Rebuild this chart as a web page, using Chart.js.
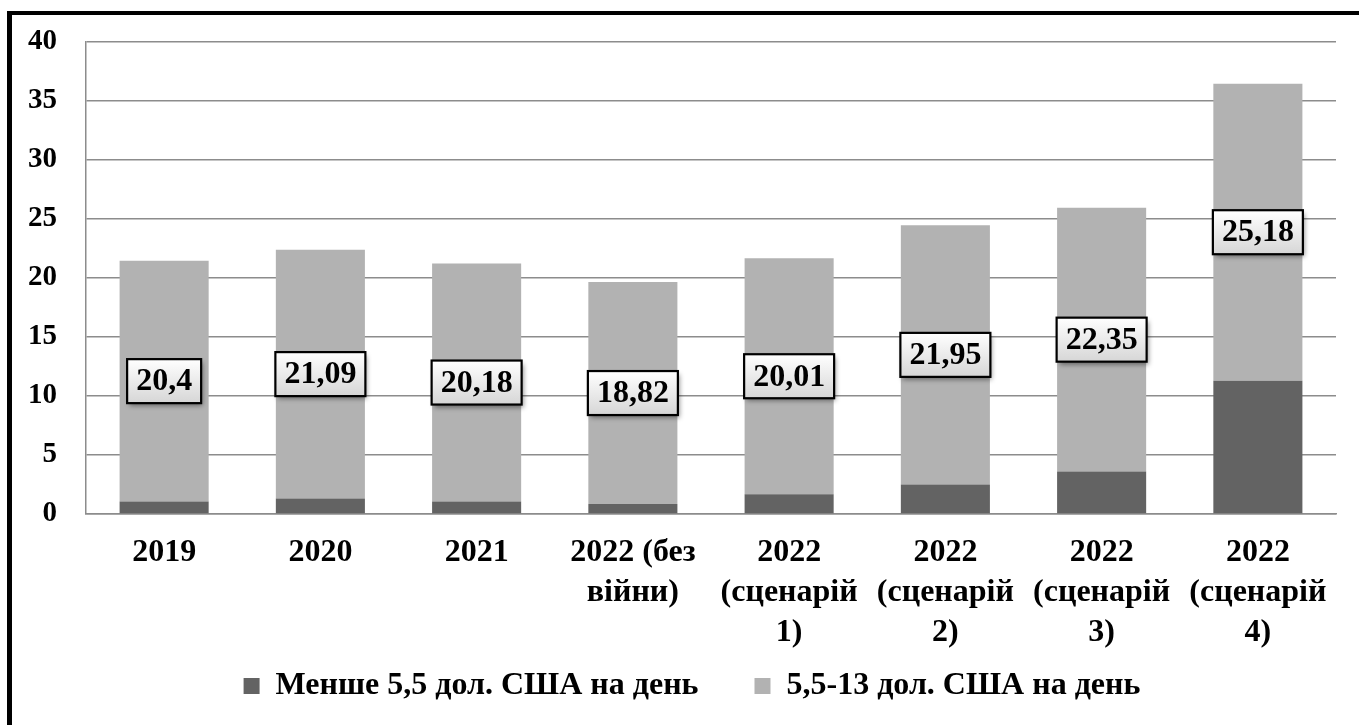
<!DOCTYPE html>
<html>
<head>
<meta charset="utf-8">
<script src="https://cdn.jsdelivr.net/npm/chart.js@4"></script>
<style>
  html, body { margin: 0; padding: 0; background: #fff; overflow: hidden; }
  #frame {
    position: absolute; left: 7px; top: 11px; width: 1500px; height: 900px;
    border-left: 5px solid #000; border-top: 4px solid #000;
  }
  #chart { position: absolute; left: 0; top: 0; }
</style>
</head>
<body>
<div id="frame"></div>
<canvas id="chart" width="1359" height="725"></canvas>
<script>
// categories (multi-line x labels)
const categories = [
    ["2019"],
    ["2020"],
    ["2021"],
    ["2022 (без", "війни)"],
    ["2022", "(сценарій", "1)"],
    ["2022", "(сценарій", "2)"],
    ["2022", "(сценарій", "3)"],
    ["2022", "(сценарій", "4)"]
];

// share below 5.5 USD per day (dark segment)
const lowShare = [1.06, 1.31, 1.05, 0.84, 1.67, 2.51, 3.6, 11.29];
// share 5.5-13 USD per day (light segment, labelled values)
const midShare = [20.4, 21.09, 20.18, 18.82, 20.01, 21.95, 22.35, 25.18];

const seriesNames = ["Менше 5,5 дол. США на день", "5,5-13 дол. США на день"];
const yTicks = { min: 0, max: 40, step: 5 };

const FONT = "'Liberation Serif', 'Times New Roman', serif";

const valueBoxes = {
    id: "valueBoxes",
    afterLayout(chart) {
        // legend placed closer under the axis labels, slightly right of centre
        const lg = chart.legend;
        lg.top = chart.chartArea.bottom + 100;
        lg.bottom = lg.top + 100;
        lg.left += 10;
        lg.right += 10;
    },
    // boxed value labels in the middle of the light segment
    afterDatasetsDraw(chart) {
        const ctx = chart.ctx;
        const meta = chart.getDatasetMeta(1);
        ctx.save();
        ctx.font = "bold 32px " + FONT;
        ctx.textAlign = "center";
        ctx.textBaseline = "middle";
        meta.data.forEach((bar, i) => {
            const text = String(midShare[i]).replace(".", ",");
            const w = ctx.measureText(text).width + 18;
            const h = 44;
            const cx = bar.x;
            const cy = (bar.y + bar.base) / 2;
            const left = cx - w / 2;
            const top = cy - h / 2;

            const grad = ctx.createLinearGradient(0, top, 0, top + h);
            grad.addColorStop(0, "#ffffff");
            grad.addColorStop(1, "#d6d6d6");

            ctx.shadowColor = "rgba(0,0,0,0.45)";
            ctx.shadowBlur = 5;
            ctx.shadowOffsetX = 2;
            ctx.shadowOffsetY = 3;
            ctx.fillStyle = grad;
            ctx.fillRect(left, top, w, h);

            ctx.shadowColor = "transparent";
            ctx.lineWidth = 2.2;
            ctx.strokeStyle = "#000";
            ctx.strokeRect(left, top, w, h);

            ctx.fillStyle = "#000";
            ctx.fillText(text, cx, cy + 1);
        });
        ctx.restore();
    }
};

new Chart(document.getElementById("chart"), {
    type: "bar",
    data: {
        labels: categories,
        datasets: [
            {
                label: seriesNames[0],
                data: lowShare,
                backgroundColor: "#636363",
                barPercentage: 0.57,
                categoryPercentage: 1
            },
            {
                label: seriesNames[1],
                data: midShare,
                backgroundColor: "#b2b2b2",
                barPercentage: 0.57,
                categoryPercentage: 1
            }
        ]
    },
    options: {
        responsive: false,
        animation: false,
        devicePixelRatio: 1,
        layout: {
            padding: { left: 28, right: 23, top: 42, bottom: 52 }
        },
        scales: {
            x: {
                stacked: true,
                grid: { display: false, drawTicks: false },
                border: { display: true, color: "#8c8c8c", width: 1.5 },
                ticks: {
                    color: "#000",
                    padding: 19,
                    maxRotation: 0,
                    autoSkip: false,
                    font: { family: FONT, size: 32, weight: "bold", lineHeight: 1.25 }
                }
            },
            y: {
                stacked: true,
                min: yTicks.min,
                max: yTicks.max,
                grid: { color: "#8c8c8c", lineWidth: 1.5, drawTicks: false },
                border: { display: true, color: "#8c8c8c", width: 1.5 },
                ticks: {
                    stepSize: yTicks.step,
                    color: "#000",
                    padding: 29,
                    font: { family: FONT, size: 29, weight: "bold" }
                },
                afterFit(scale) {
                    scale.width = 58;
                    scale.paddingTop = 0;
                }
            }
        },
        plugins: {
            legend: {
                position: "bottom",
                maxHeight: 1,
                labels: {
                    color: "#000",
                    boxWidth: 16,
                    boxHeight: 16,
                    padding: 56,
                    font: { family: FONT, size: 32, weight: "bold" }
                }
            },
            tooltip: { enabled: false }
        }
    },
    plugins: [valueBoxes]
});
</script>
</body>
</html>
